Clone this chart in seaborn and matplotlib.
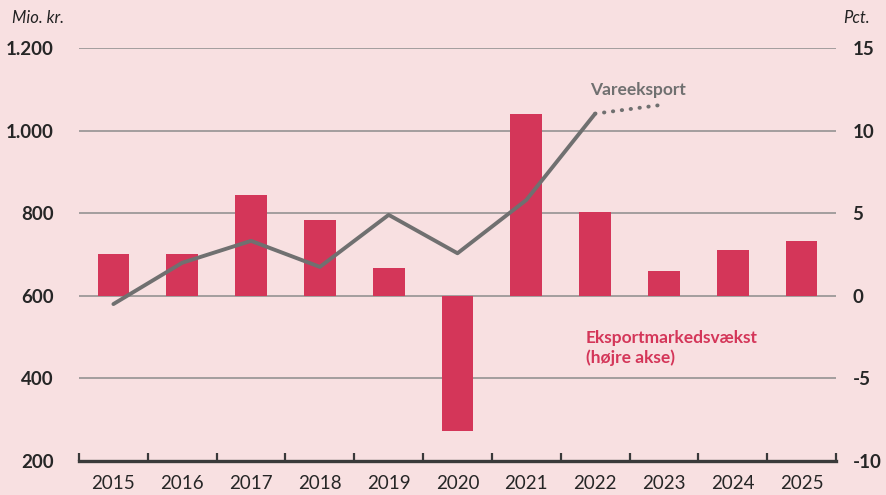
import numpy as np
import pandas as pd
import matplotlib
matplotlib.use("Agg")
import matplotlib.pyplot as plt
import seaborn as sns

years = ["2015", "2016", "2017", "2018", "2019", "2020", "2021", "2022", "2023", "2024", "2025"]
market_growth = [2.5, 2.5, 6.1, 4.6, 1.7, -8.2, 11.0, 5.1, 1.5, 2.8, 3.3]
exports_years = ["2015", "2016", "2017", "2018", "2019", "2020", "2021", "2022"]
exports = [580, 680, 733, 670, 796, 703, 832, 1041]
forecast_years = ["2022", "2023"]
forecast = [1041, 1063]
left_ticks = [200, 400, 600, 800, 1000, 1200]
left_labels = ["200", "400", "600", "800", "1.000", "1.200"]
right_ticks = [-10, -5, 0, 5, 10, 15]
right_labels = ["-10", "-5", "0", "5", "10", "15"]

BG = "#F8E0E1"
BAR = "#D43659"
LINE = "#707070"

sns.set_theme(style="white")
plt.rcParams["font.family"] = ["Lato", "DejaVu Sans"]

fig = plt.figure(figsize=(8.87, 4.95), dpi=100, facecolor=BG)
ax = fig.add_axes([79/887, 1-461/495, (836-79)/887, (461-48)/495])
ax.set_facecolor(BG)

df_bar = pd.DataFrame({"year": years, "growth": market_growth})
sns.barplot(data=df_bar, x="year", y="growth", color=BAR, saturation=1, width=0.46, ax=ax,
            zorder=2, linewidth=0, edgecolor=BAR)
ax.set_ylim(-10, 15)
ax.set_xlim(-0.5, len(years) - 0.5)
for y in right_ticks[1:]:
    ax.axhline(y, color="#8C8C8C", lw=1.1, zorder=1)
ax.set_xlabel("")
ax.set_ylabel("")
ax.set_xticks(range(len(years)))
ax.set_xticklabels(years, fontsize=13.5)
ax.tick_params(axis="x", which="major", length=0, pad=10)
for s in ["top", "left", "right"]:
    ax.spines[s].set_visible(False)
ax.spines["bottom"].set_color("#3A3A3A")
ax.spines["bottom"].set_linewidth(2.4)
ax.spines["bottom"].set_zorder(5)
ax.set_xticks(np.arange(-0.5, len(years), 1.0), minor=True)
ax.tick_params(axis="x", which="minor", bottom=True, direction="in", length=6, width=1.6,
               color="#3A3A3A")

ax2 = ax.twinx()
ax.yaxis.tick_right()
ax.yaxis.set_label_position("right")
ax.set_yticks(right_ticks)
ax.set_yticklabels(right_labels, fontsize=13.5, fontweight="bold")
ax.tick_params(axis="y", which="both", left=False, right=True, labelleft=False, labelright=True,
               length=0, pad=12)

idx = {y: i for i, y in enumerate(years)}
df_line = pd.DataFrame({"x": [idx[y] for y in exports_years], "v": exports})
df_fc = pd.DataFrame({"x": [idx[y] for y in forecast_years], "v": forecast})
sns.lineplot(data=df_line, x="x", y="v", color=LINE, lw=2.8, ax=ax2)
sns.lineplot(data=df_fc, x="x", y="v", color=LINE, lw=2.8, ax=ax2, linestyle=(0, (0.1, 2.2)))
for l in ax2.lines:
    l.set_dash_capstyle("round")
    l.set_solid_capstyle("round")
ax2.set_ylim(200, 1200)
ax2.yaxis.tick_left()
ax2.set_yticks(left_ticks)
ax2.set_yticklabels(left_labels, fontsize=13.5, fontweight="bold")
ax2.tick_params(axis="y", left=True, right=False, labelleft=True, labelright=False, length=0, pad=18)
ax2.set_xlabel("")
ax2.set_ylabel("")
for s in ["top", "left", "right", "bottom"]:
    ax2.spines[s].set_visible(False)
ax2.set_xlim(-0.5, len(years) - 0.5)

fig.text(12/887, 1-18/495, "Mio. kr.", fontsize=12, style="italic", va="center", ha="left", color="#222222")
fig.text(843/887, 1-18/495, "Pct.", fontsize=12, style="italic", va="center", ha="left", color="#222222")
fig.text(590/887, 1-90/495, "Vareeksport", fontsize=12.5, fontweight="bold", color=LINE, va="center", ha="left")
fig.text(586/887, 1-348/495, "Eksportmarkedsvækst\n(højre akse)", fontsize=12.5, fontweight="bold",
         color=BAR, va="center", ha="left", linespacing=1.25)

fig.savefig("out.png", dpi=100, facecolor=BG)
